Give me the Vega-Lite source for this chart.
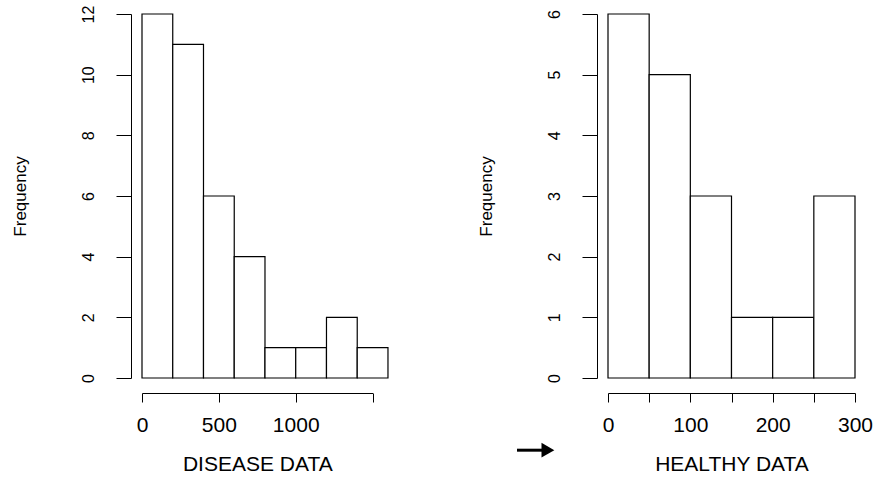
{
  "$schema": "https://vega.github.io/schema/vega-lite/v6.json",
  "background": "white",
  "padding": {"left": 11, "top": 5, "right": 5, "bottom": 5},
  "spacing": 88,
  "config": {
    "view": {"stroke": null},
    "font": "Liberation Sans",
    "axis": {
      "grid": false,
      "domainColor": "black",
      "tickColor": "black",
      "labelColor": "black",
      "titleColor": "black",
      "domainWidth": 1,
      "tickWidth": 1,
      "titleFontWeight": "normal",
      "labelFont": "Liberation Sans",
      "titleFont": "Liberation Sans"
    }
  },
  "hconcat": [
    {
      "width": 246,
      "height": 364,
      "data": {"values": [
        {"bin_start": 0, "bin_end": 200, "count": 12},
        {"bin_start": 200, "bin_end": 400, "count": 11},
        {"bin_start": 400, "bin_end": 600, "count": 6},
        {"bin_start": 600, "bin_end": 800, "count": 4},
        {"bin_start": 800, "bin_end": 1000, "count": 1},
        {"bin_start": 1000, "bin_end": 1200, "count": 1},
        {"bin_start": 1200, "bin_end": 1400, "count": 2},
        {"bin_start": 1400, "bin_end": 1600, "count": 1}
      ]},
      "mark": {"type": "rect", "fill": "white", "stroke": "black", "strokeWidth": 1.2},
      "encoding": {
        "x": {
          "field": "bin_start", "type": "quantitative",
          "scale": {"domain": [0, 1500], "range": [0, 230.6], "nice": false, "zero": false},
          "axis": {
            "values": [0, 500, 1000, 1500],
            "format": "d",
            "labelExpr": "datum.value == 1500 ? '' : datum.label",
            "offset": 15, "tickSize": 9,
            "labelFontSize": 21, "labelPadding": 12, "labelFlush": false,
            "title": "DISEASE DATA", "titleFontSize": 21, "titlePadding": 18
          }
        },
        "x2": {"field": "bin_end"},
        "y": {
          "field": "count", "type": "quantitative",
          "scale": {"domain": [0, 12], "nice": false},
          "axis": {
            "values": [0, 2, 4, 6, 8, 10, 12],
            "format": "d",
            "offset": 11, "tickSize": 15,
            "labelAngle": 270, "labelAlign": "center", "labelBaseline": "bottom",
            "labelFontSize": 16, "labelPadding": 20,
            "title": "Frequency", "titleFontSize": 17, "titlePadding": 51
          }
        },
        "y2": {"datum": 0}
      }
    },
    {
      "width": 247,
      "height": 364,
      "layer": [
        {
          "data": {"values": [
            {"bin_start": 0, "bin_end": 50, "count": 6},
            {"bin_start": 50, "bin_end": 100, "count": 5},
            {"bin_start": 100, "bin_end": 150, "count": 3},
            {"bin_start": 150, "bin_end": 200, "count": 1},
            {"bin_start": 200, "bin_end": 250, "count": 1},
            {"bin_start": 250, "bin_end": 300, "count": 3}
          ]},
          "mark": {"type": "rect", "fill": "white", "stroke": "black", "strokeWidth": 1.2},
          "encoding": {
            "x": {
              "field": "bin_start", "type": "quantitative",
              "scale": {"domain": [0, 300], "nice": false, "zero": false},
              "axis": {
                "values": [0, 50, 100, 150, 200, 250, 300],
                "format": "d",
                "labelExpr": "datum.value % 100 == 0 ? datum.label : ''",
                "offset": 15, "tickSize": 9,
                "labelFontSize": 21, "labelPadding": 12, "labelFlush": false,
                "title": "HEALTHY DATA", "titleFontSize": 21, "titlePadding": 18
              }
            },
            "x2": {"field": "bin_end"},
            "y": {
              "field": "count", "type": "quantitative",
              "scale": {"domain": [0, 6], "nice": false},
              "axis": {
                "values": [0, 1, 2, 3, 4, 5, 6],
                "format": "d",
                "offset": 11, "tickSize": 15,
                "labelAngle": 270, "labelAlign": "center", "labelBaseline": "bottom",
                "labelFontSize": 16, "labelPadding": 20,
                "title": "Frequency", "titleFontSize": 17, "titlePadding": 51
              }
            },
            "y2": {"datum": 0}
          }
        },
        {
          "data": {"values": [{"from": -110.5, "to": -78, "level": -1.19}]},
          "mark": {"type": "rule", "color": "black", "strokeWidth": 3, "clip": false},
          "encoding": {
            "x": {"field": "from", "type": "quantitative"},
            "x2": {"field": "to"},
            "y": {"field": "level", "type": "quantitative"}
          }
        },
        {
          "data": {"values": [{"head": -73, "level": -1.19}]},
          "mark": {"type": "point", "shape": "triangle-right", "filled": true, "color": "black", "opacity": 1, "size": 220, "clip": false},
          "encoding": {
            "x": {"field": "head", "type": "quantitative"},
            "y": {"field": "level", "type": "quantitative"}
          }
        }
      ]
    }
  ]
}
